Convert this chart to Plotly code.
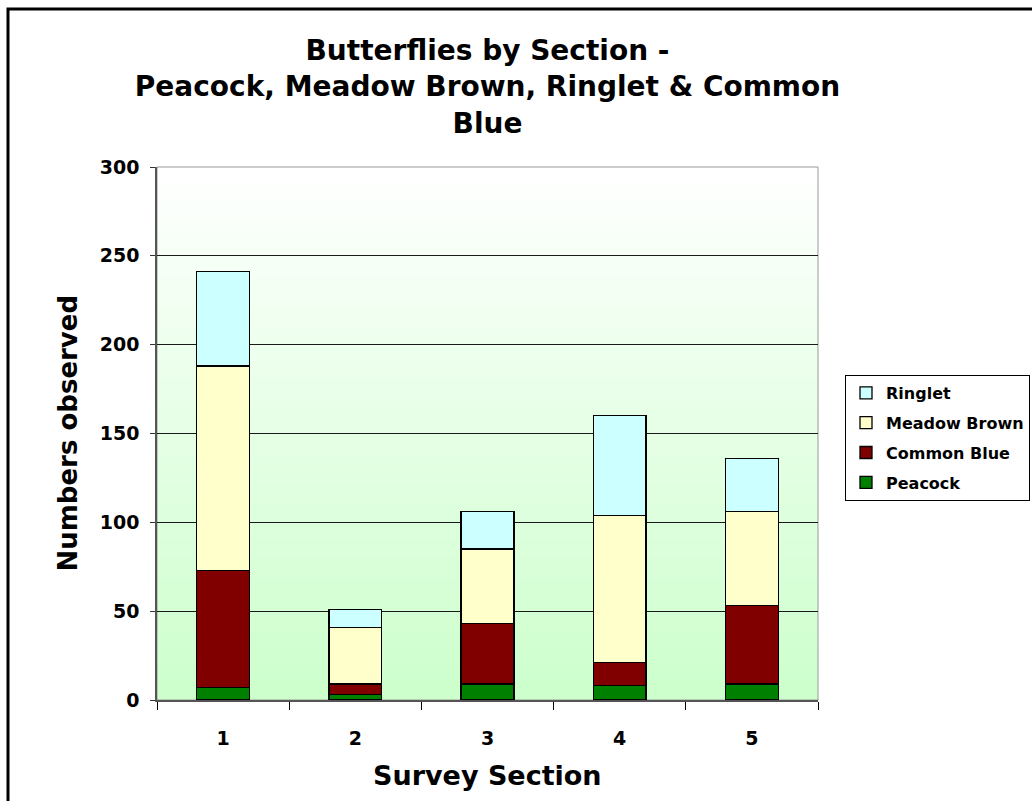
import plotly.graph_objects as go

# Butterfly counts per survey section
sections = ["1", "2", "3", "4", "5"]
peacock = [7, 3, 9, 8, 9]
common_blue = [66, 6, 34, 13, 44]
meadow_brown = [115, 32, 42, 83, 53]
ringlet = [53, 10, 21, 56, 30]

series = [
    ("Peacock", peacock, "#008000"),
    ("Common Blue", common_blue, "#800000"),
    ("Meadow Brown", meadow_brown, "#FFFFCC"),
    ("Ringlet", ringlet, "#CCFFFF"),
]

FONT = "DejaVu Sans"
W, H = 1032, 801
L, R, T, B = 157, 214, 167, 101
pw, ph = W - L - R, H - T - B


def px_x(x):
    return (x - L) / pw


def px_y(y):
    return (H - B - y) / ph


fig = go.Figure()
for i, (name, vals, col) in enumerate(series):
    fig.add_trace(go.Bar(
        x=sections, y=vals, name=name,
        marker=dict(color=col, line=dict(color="black", width=1.3)),
        legendgroup=name, legendrank=len(series) - i,
    ))

# vertical white-to-green gradient behind the plot area
shapes = []
n = 120
top = (255, 255, 255)
bot = (204, 255, 204)
for k in range(n):
    f = (k + 0.5) / n
    c = tuple(round(top[j] + (bot[j] - top[j]) * f) for j in range(3))
    shapes.append(dict(
        type="rect", xref="paper", yref="paper",
        x0=0, x1=1, y0=1 - (k + 1) / n, y1=1 - k / n + 0.002,
        fillcolor="rgb(%d,%d,%d)" % c, line=dict(width=0), layer="below",
    ))
# plot-area border
shapes.append(dict(type="rect", xref="paper", yref="paper", x0=0, x1=1, y0=0, y1=1,
                   line=dict(color="#999999", width=1), layer="below"))
# chart frame
shapes.append(dict(type="rect", xref="paper", yref="paper",
                   x0=px_x(8), x1=px_x(3000), y0=px_y(3000), y1=px_y(9),
                   line=dict(color="black", width=3), fillcolor="rgba(0,0,0,0)"))

bold = dict(family=FONT, color="black", weight="bold")

fig.update_layout(
    width=W, height=H,
    margin=dict(l=L, r=R, t=T, b=B, autoexpand=False),
    paper_bgcolor="white", plot_bgcolor="rgba(0,0,0,0)",
    barmode="stack", bargap=0.6,
    shapes=shapes,
    title=dict(
        text="Butterflies by Section -<br>Peacock, Meadow Brown, Ringlet &amp; Common<br>Blue",
        x=0.5, xref="paper", y=1 - 60 / H, yref="container",
        xanchor="center", yanchor="middle",
        font=dict(size=28, **bold),
    ),
    xaxis=dict(
        type="category", tickson="boundaries", ticks="outside", ticklen=8,
        tickcolor="black", showline=True, linecolor="#555555", linewidth=1.5,
        showgrid=False, tickfont=dict(size=19, **bold), ticklabelstandoff=20,
        fixedrange=True,
    ),
    yaxis=dict(
        range=[0, 300], dtick=50, ticks="outside", ticklen=5, tickcolor="#333333",
        showline=True, linecolor="#555555", linewidth=1.5,
        showgrid=True, gridcolor="#1a1a1a", gridwidth=1, zeroline=False,
        tickfont=dict(size=19, **bold), ticklabelstandoff=7,
    ),
    legend=dict(
        x=px_x(845), y=px_y(375), xanchor="left", yanchor="top",
        bordercolor="black", borderwidth=1, bgcolor="white",
        font=dict(size=16, **bold), traceorder="grouped",
        tracegroupgap=6,
    ),
    annotations=[
        dict(text="Numbers observed", xref="paper", yref="paper",
             x=px_x(67), y=0.5, textangle=-90, showarrow=False,
             xanchor="center", yanchor="middle", font=dict(size=26, **bold)),
        dict(text="Survey Section", xref="paper", yref="paper",
             x=0.5, y=px_y(775), showarrow=False,
             xanchor="center", yanchor="middle", font=dict(size=27, **bold)),
    ],
)

fig.write_html("out.html")
